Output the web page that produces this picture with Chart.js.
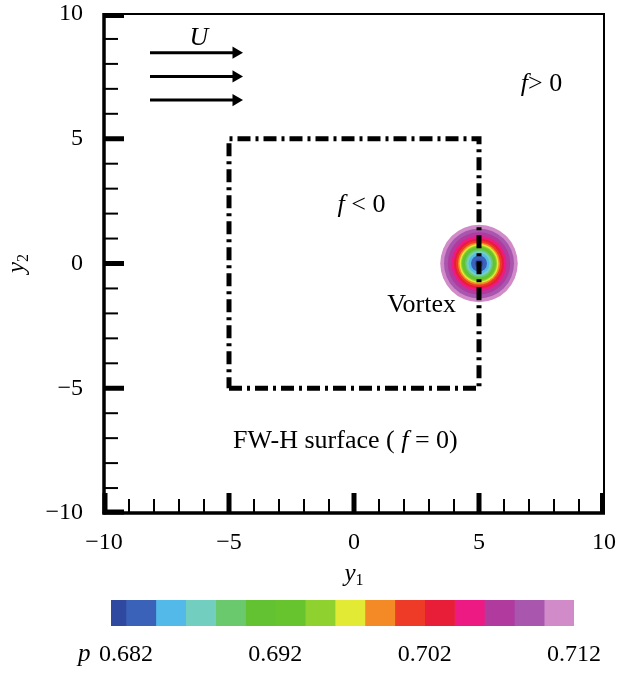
<!DOCTYPE html>
<html><head><meta charset="utf-8">
<script src="https://cdn.jsdelivr.net/npm/chart.js@4.4.1/dist/chart.umd.min.js"></script>
<style>
html,body{margin:0;padding:0;background:#fff;}
#wrap{position:relative;width:619px;height:674px;background:#fff;}
#main{position:absolute;left:0;top:0;}
#cbar{position:absolute;left:0;top:590px;}
</style></head><body>
<div id="wrap"><canvas id="main" width="619" height="590"></canvas><canvas id="cbar" width="619" height="84"></canvas></div>
<script>
// ---- data ----
const axisRange = [-10, 10];
const axisTickStep = 5;
const surfaceX = [-5, 5, 5, -5, -5];
const surfaceY = [-5, -5, 5, 5, -5];
const vortexCenter = [5, 0];
// pressure level boundaries (colour bar) and colours
const levelBounds = [0.681, 0.682, 0.684, 0.686, 0.688, 0.690, 0.692, 0.694, 0.696, 0.698, 0.700, 0.702, 0.704, 0.706, 0.708, 0.710, 0.712];
const levelColors = ['#2f49a0', '#3b62b9', '#52b9e9', '#72cfbf', '#6ac96c', '#62c232', '#68c42e', '#8fd12f', '#e3ea34', '#f48a25', '#ee3b27', '#e81d37', '#ec1a82', '#b13a9f', '#a956ae', '#d18bc9'];
// outer radius of each pressure band around the vortex centre (y-units), same order as colours
const ringRadius = [0.16, 0.32, 0.42, 0.50, 0.56, 0.62, 0.68, 0.72, 0.78, 0.84, 0.92, 1.00, 1.10, 1.25, 1.40, 1.55];
const flowArrowY = [8.45, 7.5, 6.55];
const flowArrowX = [-8.16, -4.72];
const cbarTicks = [0.682, 0.692, 0.702, 0.712];

const SERIF = '"Liberation Serif", "Times New Roman", serif';
const fmt = v => String(v).replace('-', '\u2212');

// ---- main chart ----
const datasets = [];
datasets.push({
  type: 'line', label: 'FW-H surface',
  data: surfaceX.map((x, i) => ({x, y: surfaceY[i]})),
  borderColor: '#000', borderWidth: 5, borderDash: [13, 5, 3, 5],
  pointRadius: 0, fill: false, tension: 0
});
flowArrowY.forEach(yv => {
  datasets.push({
    type: 'line', label: 'U',
    data: flowArrowX.map(x => ({x, y: yv})),
    borderColor: '#000', borderWidth: 3,
    pointRadius: [0, 7], pointStyle: 'triangle', rotation: 90,
    pointBackgroundColor: '#000', pointBorderWidth: 0, fill: false
  });
});
const ringsOuterFirst = ringRadius.map((r, i) => ({r, c: levelColors[i]})).reverse();
datasets.push({
  type: 'scatter', label: 'Vortex',
  data: ringsOuterFirst.map(() => ({x: vortexCenter[0], y: vortexCenter[1]})),
  pointRadius: ctx => {
    const xs = ctx.chart.scales.x;
    const r = ringsOuterFirst[ctx.dataIndex].r;
    return Math.abs(xs.getPixelForValue(vortexCenter[0] + r) - xs.getPixelForValue(vortexCenter[0]));
  },
  pointBackgroundColor: ctx => ringsOuterFirst[ctx.dataIndex].c,
  pointBorderWidth: 0, pointHoverRadius: 0
});

function drawRich(ctx, parts, x, y, align) {
  // parts: [text, italic, size, dy]
  let w = 0;
  parts.forEach(p => { ctx.font = (p[1] ? 'italic ' : '') + p[2] + 'px ' + SERIF; w += ctx.measureText(p[0]).width; });
  let cx = align === 'center' ? x - w / 2 : (align === 'right' ? x - w : x);
  parts.forEach(p => {
    ctx.font = (p[1] ? 'italic ' : '') + p[2] + 'px ' + SERIF;
    ctx.fillText(p[0], cx, y + (p[3] || 0));
    cx += ctx.measureText(p[0]).width;
  });
}

const labels = [
  {x: -6.2, y: 8.76, align: 'center', parts: [['U', true, 26]]},
  {x: 7.5, y: 6.9, align: 'center', parts: [['f', true, 26], ['> 0', false, 26]]},
  {x: 0.3, y: 2.05, align: 'center', parts: [['f', true, 26], [' < 0', false, 26]]},
  {x: 4.08, y: -1.95, align: 'right', parts: [['Vortex', false, 26]]},
  {x: -4.84, y: -7.39, align: 'left', parts: [['FW-H surface ( ', false, 26], ['f', true, 26], [' = 0)', false, 26]]}
];

const framePlugin = {
  id: 'frame',
  afterDraw(chart) {
    const {ctx, chartArea: a, scales: {x, y}} = chart;
    ctx.save();
    ctx.strokeStyle = '#000'; ctx.fillStyle = '#000'; ctx.lineCap = 'butt';
    const seg = (x1, y1, x2, y2, w) => { ctx.lineWidth = w; ctx.beginPath(); ctx.moveTo(x1, y1); ctx.lineTo(x2, y2); ctx.stroke(); };
    seg(a.left, a.top, a.right + 1, a.top, 2);
    seg(a.right, a.top, a.right, a.bottom, 2);
    seg(a.left, a.top - 1, a.left, a.bottom + 1.5, 3.5);
    seg(a.left - 1.5, a.bottom, a.right + 1, a.bottom, 3.5);
    for (let v = x.min; v <= x.max; v += 1) {
      const major = v % 5 === 0;
      const lw = major ? 5 : 2, len = major ? 20 : 14;
      let px = x.getPixelForValue(v);
      if (v === x.min) px += lw / 2 - 1.5;
      if (v === x.max) px -= lw / 2 - 1;
      seg(px, a.bottom, px, a.bottom - len, lw);
    }
    for (let v = y.min; v <= y.max; v += 1) {
      const major = v % 5 === 0;
      const lw = major ? 5 : 2, len = major ? 20 : 14;
      let py = y.getPixelForValue(v);
      if (v === y.min) py -= lw / 2 - 1.5;
      if (v === y.max) py += lw / 2 - 1;
      seg(a.left, py, a.left + len, py, lw);
    }
    // annotations
    ctx.textBaseline = 'alphabetic';
    labels.forEach(l => drawRich(ctx, l.parts, x.getPixelForValue(l.x), y.getPixelForValue(l.y), l.align));
    // axis titles
    const cx = (a.left + a.right) / 2;
    drawRich(ctx, [['y', true, 25], ['1', false, 16, 4]], cx, 581, 'center');
    ctx.save();
    ctx.translate(24, (a.top + a.bottom) / 2);
    ctx.rotate(-Math.PI / 2);
    drawRich(ctx, [['y', true, 25], ['2', false, 16, 4]], 0, 0, 'center');
    ctx.restore();
    ctx.restore();
  }
};

new Chart(document.getElementById('main'), {
  type: 'scatter',
  data: {datasets},
  options: {
    responsive: false, animation: false, devicePixelRatio: 1,
    layout: {padding: {left: 0, right: 15, top: 14, bottom: 0}},
    plugins: {legend: {display: false}, tooltip: {enabled: false}},
    scales: {
      x: {
        type: 'linear', min: axisRange[0], max: axisRange[1],
        grid: {display: false, drawTicks: false}, border: {display: false},
        ticks: {stepSize: axisTickStep, color: '#000', font: {family: SERIF, size: 24}, padding: 15, callback: fmt, maxRotation: 0},
        afterFit: s => { s.height = 77; s.paddingLeft = 0; s.paddingRight = 0; }
      },
      y: {
        type: 'linear', min: axisRange[0], max: axisRange[1],
        grid: {display: false, drawTicks: false}, border: {display: false},
        ticks: {stepSize: axisTickStep, color: '#000', font: {family: SERIF, size: 24}, padding: 21, callback: fmt},
        afterFit: s => { s.width = 104; s.paddingTop = 0; s.paddingBottom = 0; }
      }
    }
  },
  plugins: [framePlugin]
});

// ---- colour bar ----
const cbarDatasets = levelColors.map((c, i) => ({
  label: 'p' + i,
  data: [[levelBounds[i], levelBounds[i + 1]]],
  backgroundColor: c, borderWidth: 0, grouped: false,
  barPercentage: 1, categoryPercentage: 1
}));
const pLabel = {
  id: 'pLabel',
  afterDraw(chart) {
    const ctx = chart.ctx;
    ctx.save(); ctx.fillStyle = '#000'; ctx.textBaseline = 'alphabetic';
    drawRich(ctx, [['p', true, 25]], 78, 71, 'left');
    ctx.restore();
  }
};
new Chart(document.getElementById('cbar'), {
  type: 'bar',
  data: {labels: ['p'], datasets: cbarDatasets},
  options: {
    indexAxis: 'y', responsive: false, animation: false, devicePixelRatio: 1,
    layout: {padding: {left: 111, right: 45, top: 10, bottom: 0}},
    plugins: {legend: {display: false}, tooltip: {enabled: false}},
    scales: {
      y: {display: false},
      x: {
        type: 'linear', min: levelBounds[0], max: levelBounds[levelBounds.length - 1],
        grid: {display: false, drawTicks: false}, border: {display: false},
        ticks: {color: '#000', font: {family: SERIF, size: 24}, padding: 14, autoSkip: false, maxRotation: 0,
                callback: v => v.toFixed(3)},
        afterBuildTicks: s => { s.ticks = cbarTicks.map(value => ({value})); },
        afterFit: s => { s.height = 48; s.paddingLeft = 0; s.paddingRight = 0; }
      }
    }
  },
  plugins: [pLabel]
});
</script>
</body></html>
